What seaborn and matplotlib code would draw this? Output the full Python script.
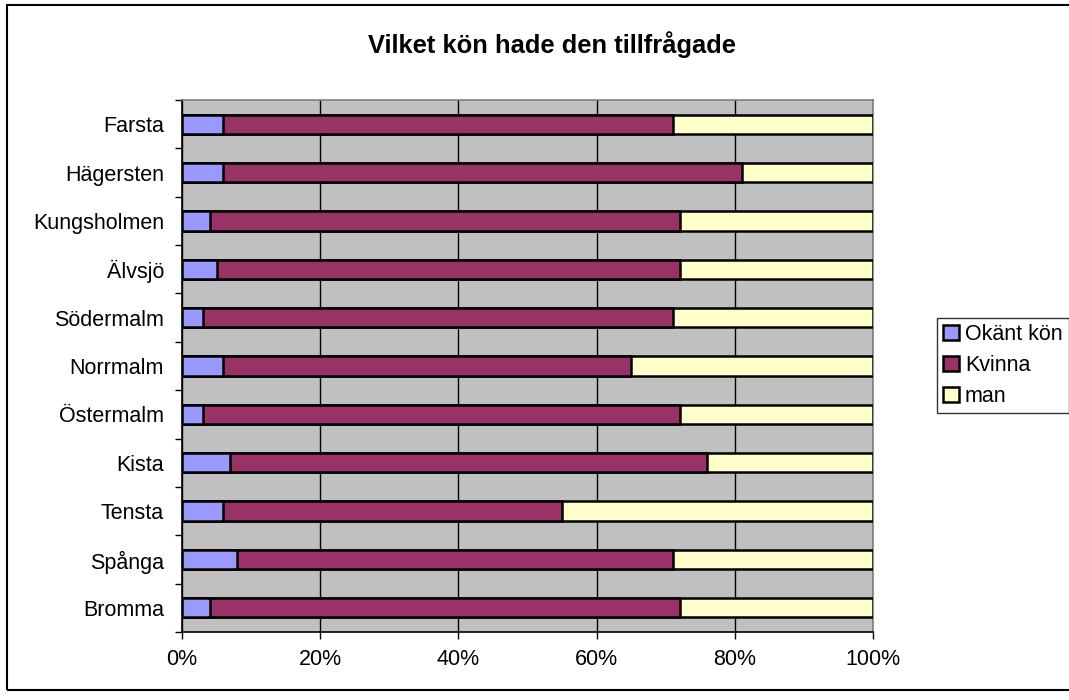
"""Vilket kön hade den tillfrågade - 100% stacked horizontal bars."""
import numpy as np
import pandas as pd
import matplotlib
matplotlib.use("Agg")
import matplotlib.pyplot as plt
from matplotlib.patches import Patch, Rectangle
import seaborn as sns

DISTRICTS = ["Farsta", "Hägersten", "Kungsholmen", "Älvsjö", "Södermalm",
             "Norrmalm", "Östermalm", "Kista", "Tensta", "Spånga", "Bromma"]
OKANT = [6, 6, 4, 5, 3, 6, 3, 7, 6, 8, 4]
KVINNA = [65, 75, 68, 67, 68, 59, 69, 69, 49, 63, 68]
MAN = [29, 19, 28, 28, 29, 35, 28, 24, 45, 29, 28]
SERIES = ["Okänt kön", "Kvinna", "man"]
COLORS = ["#9999FF", "#993366", "#FFFFCC"]
X_TICKS = [0, 20, 40, 60, 80, 100]

sns.set_style("white")
plt.rcParams["font.family"] = ["Liberation Sans", "DejaVu Sans"]
plt.rcParams["text.color"] = "black"
plt.rcParams["xtick.color"] = "black"
plt.rcParams["ytick.color"] = "black"
plt.rcParams["axes.labelcolor"] = "black"

df = pd.DataFrame({"district": DISTRICTS, "Okänt kön": OKANT,
                   "Kvinna": KVINNA, "man": MAN})
df["c_okant"] = df["Okänt kön"]
df["c_kvinna"] = df["c_okant"] + df["Kvinna"]
df["c_man"] = df["c_kvinna"] + df["man"]

fig = plt.figure(figsize=(10.69, 7.0), dpi=100)
ax = fig.add_axes([182 / 1069, 1 - 632 / 700, 691 / 1069, 532 / 700])
ax.set_facecolor("#C0C0C0")

# draw largest cumulative first so smaller ones sit on top
for col, color in zip(["c_man", "c_kvinna", "c_okant"], COLORS[::-1]):
    sns.barplot(data=df, x=col, y="district", order=DISTRICTS, orient="h",
                color=color, saturation=1, width=0.4, edgecolor="black",
                linewidth=1.8, ax=ax, zorder=3)

ax.set_xlim(0, 100)
ax.set_ylim(len(DISTRICTS) - 0.5, -0.5)
ax.set_xticks(X_TICKS)
ax.set_xticklabels([f"{t}%" for t in X_TICKS])
ax.xaxis.grid(True, color="black", linewidth=1.0, zorder=0)
ax.set_axisbelow(True)
ax.set_xlabel("")
ax.set_ylabel("")

ax.set_yticks(np.arange(len(DISTRICTS)))
ax.set_yticklabels(DISTRICTS)
ax.set_yticks(np.arange(len(DISTRICTS) + 1) - 0.5, minor=True)
ax.tick_params(axis="y", which="major", length=0, pad=13, labelsize=15.5)
ax.tick_params(axis="y", which="minor", length=5, width=1, color="black",
               direction="out", left=True)
ax.tick_params(axis="x", length=5, width=1, color="black", direction="out",
               bottom=True, pad=7, labelsize=15.5)

for side in ["top", "right"]:
    ax.spines[side].set_color("#808080")
    ax.spines[side].set_linewidth(1.2)
for side in ["left", "bottom"]:
    ax.spines[side].set_color("black")
    ax.spines[side].set_linewidth(1.2)

fig.text(552 / 1069, 1 - 45 / 700, "Vilket kön hade den tillfrågade",
         ha="center", va="center", fontsize=18.4, fontweight="bold",
         color="black")

handles = [Patch(facecolor=c, edgecolor="black", linewidth=1.8) for c in COLORS]
leg = fig.legend(handles, SERIES, loc="upper left",
                 bbox_to_anchor=(937 / 1069, 1 - 318 / 700), fontsize=15.5,
                 frameon=True, fancybox=False, handlelength=0.7,
                 handleheight=0.7, handletextpad=0.3, labelspacing=0.45,
                 borderpad=0.3, borderaxespad=0)
leg.get_frame().set_edgecolor("black")
leg.get_frame().set_linewidth(1.0)

fig.patches.append(Rectangle((7 / 1069, 1 - 690 / 700), 1.2, 685 / 700,
                             transform=fig.transFigure, fill=False,
                             edgecolor="black", linewidth=1.5))

fig.savefig("out.png", dpi=100)
plt.close(fig)
